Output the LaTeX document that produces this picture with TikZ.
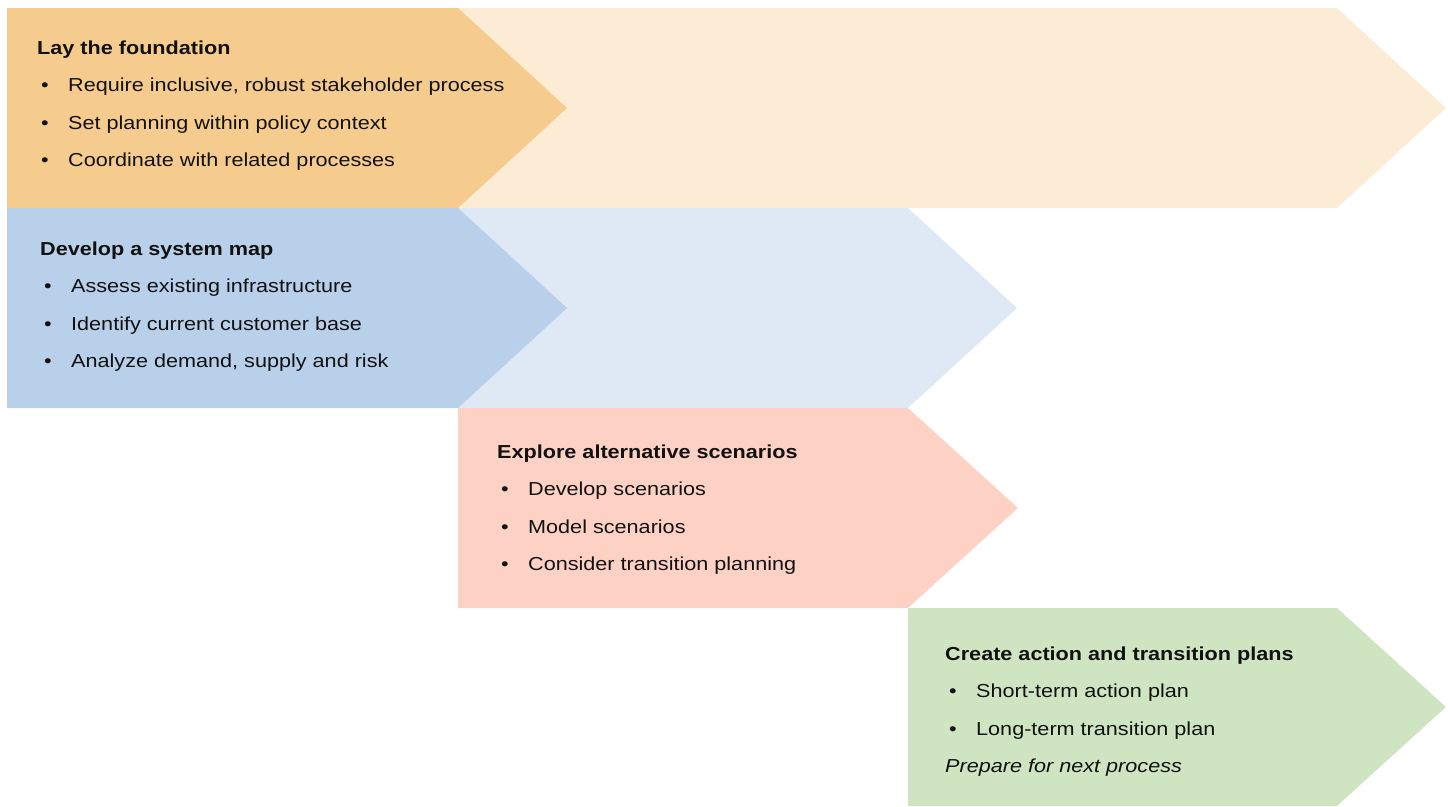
\documentclass[tikz,border=0pt]{standalone}
\usepackage{fontspec}
\setmainfont[FakeStretch=1.15]{Liberation Sans}
\definecolor{founddark}{HTML}{F6CC8E}
\definecolor{foundlight}{HTML}{FCECD6}
\definecolor{mapdark}{HTML}{B9D0EA}
\definecolor{maplight}{HTML}{DFE9F5}
\definecolor{scenfill}{HTML}{FDD2C5}
\definecolor{planfill}{HTML}{CFE5C2}
\definecolor{textdark}{HTML}{111111}
\newcommand\bul{\hspace*{4pt}\makebox[27pt][l]{\textbullet}}

\begin{document}
\begin{tikzpicture}[
    x=1pt,y=-1pt,
    stage/.style={inner sep=0pt,anchor=north west,align=left,text=textdark,
        font=\fontsize{18.8}{37.4}\selectfont}
  ]
    \useasboundingbox (0,0) rectangle (1448,806);

    \fill[foundlight] (458,8) -- (1337,8) -- (1446,108) -- (1337,208) -- (458,208) -- cycle;
    \fill[founddark]  (7,8) -- (458,8) -- (567,108) -- (458,208) -- (7,208) -- cycle;
    \fill[maplight]   (458,208) -- (908,208) -- (1017,308) -- (908,408) -- (458,408) -- cycle;
    \fill[mapdark]    (7,208) -- (458,208) -- (567,308) -- (458,408) -- (7,408) -- cycle;
    \fill[scenfill]   (458,408) -- (908,408) -- (1018,508) -- (908,608) -- (458,608) -- cycle;
    \fill[planfill]   (908,608) -- (1337,608) -- (1446,707) -- (1337,806) -- (908,806) -- cycle;

    \node[stage] (found) at (37,40.5) {\textbf{Lay the foundation}\\
        \bul Require inclusive, robust stakeholder process\\
        \bul Set planning within policy context\\
        \bul Coordinate with related processes};
    \node[stage] (sysmap) at (40,241.5) {\textbf{Develop a system map}\\
        \bul Assess existing infrastructure\\
        \bul Identify current customer base\\
        \bul Analyze demand, supply and risk};
    \node[stage] (scen) at (497,444.5) {\textbf{Explore alternative scenarios}\\
        \bul Develop scenarios\\
        \bul Model scenarios\\
        \bul Consider transition planning};
    \node[stage] (plans) at (945,646.5) {\textbf{Create action and transition plans}\\
        \bul Short-term action plan\\
        \bul Long-term transition plan\\
        \textit{Prepare for next process}};
\end{tikzpicture}
\end{document}
